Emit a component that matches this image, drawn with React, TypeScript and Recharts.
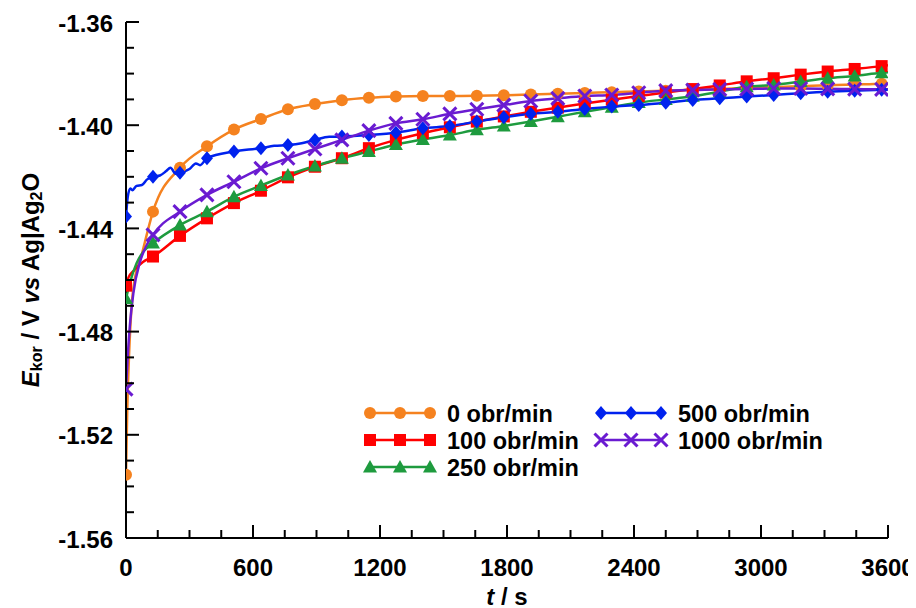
import React from 'react';
import { LineChart, Line, XAxis, YAxis, Legend } from 'recharts';

// marker times (s), shared by all series
const markerTimes = [0, 127.5, 255, 382.5, 510, 637.5, 765, 892.5, 1020, 1147.5, 1275, 1402.5, 1530, 1657.5, 1785, 1912.5, 2040, 2167.5, 2295, 2422.5, 2550, 2677.5, 2805, 2932.5, 3060, 3187.5, 3315, 3442.5, 3570];

// values at marker times (V vs Ag|Ag2O)
const rpm0 = [-1.5355, -1.4335, -1.4165, -1.4082, -1.4017, -1.3976, -1.3938, -1.3918, -1.3903, -1.3894, -1.3889, -1.3887, -1.3887, -1.3886, -1.3884, -1.3881, -1.3878, -1.3875, -1.3872, -1.3869, -1.3866, -1.3863, -1.386, -1.3856, -1.3853, -1.3849, -1.3845, -1.3842, -1.3839];
const rpm100 = [-1.4622, -1.4509, -1.4429, -1.4361, -1.4302, -1.4254, -1.4202, -1.4161, -1.4128, -1.4089, -1.4057, -1.4031, -1.4008, -1.3986, -1.3966, -1.3948, -1.3932, -1.3916, -1.3901, -1.3887, -1.3873, -1.386, -1.3846, -1.383, -1.3818, -1.3804, -1.3792, -1.3782, -1.3771];
const rpm250 = [-1.4672, -1.4457, -1.4387, -1.4335, -1.4277, -1.4234, -1.4193, -1.4158, -1.4128, -1.4102, -1.4075, -1.4055, -1.4038, -1.4018, -1.4003, -1.3986, -1.3967, -1.3948, -1.393, -1.3912, -1.39, -1.3888, -1.387, -1.3851, -1.3844, -1.3831, -1.3818, -1.3809, -1.3797];
const rpm500 = [-1.4354, -1.42, -1.4184, -1.4128, -1.4102, -1.4089, -1.4077, -1.4057, -1.4044, -1.4038, -1.4029, -1.4012, -1.4003, -1.3986, -1.3969, -1.3956, -1.3948, -1.3937, -1.3928, -1.3922, -1.3913, -1.3902, -1.3896, -1.3889, -1.3883, -1.3876, -1.387, -1.3866, -1.3863];
const rpm1000 = [-1.5023, -1.4425, -1.4335, -1.427, -1.4219, -1.4167, -1.4128, -1.4092, -1.4057, -1.4021, -1.3993, -1.3977, -1.3956, -1.3938, -1.3922, -1.3906, -1.3896, -1.3887, -1.3883, -1.3874, -1.3866, -1.3864, -1.3861, -1.386, -1.3858, -1.3858, -1.3859, -1.386, -1.3861];

// extra (unmarked) points [t, value]
const rpm0Extra: [number, number][] = [[6, -1.51], [15, -1.488], [35, -1.463], [75, -1.45], [3600, -1.3838]];
const rpm100Extra: [number, number][] = [[12, -1.459], [35, -1.4565], [80, -1.453], [3600, -1.3768]];
const rpm250Extra: [number, number][] = [[18, -1.4612], [50, -1.4535], [82, -1.449], [3600, -1.3795]];
const rpm500Extra: [number, number][] = [[8, -1.428], [20, -1.4245], [30, -1.4252], [50, -1.4235], [75, -1.4232], [100, -1.421], [160, -1.4195], [190, -1.4178], [210, -1.4165], [235, -1.4188], [300, -1.417], [330, -1.4148], [350, -1.4155], [700, -1.408], [830, -1.407], [960, -1.4045], [3600, -1.3862]];
const rpm1000Extra: [number, number][] = [[8, -1.49], [18, -1.478], [35, -1.465], [66, -1.453], [98, -1.4465], [3600, -1.3861]];

const seriesNames = ['0 obr/min', '100 obr/min', '250 obr/min', '500 obr/min', '1000 obr/min'];

const xMajorTicks = [0, 600, 1200, 1800, 2400, 3000, 3600];
const xMinorTicks = [150, 300, 450, 750, 900, 1050, 1350, 1500, 1650, 1950, 2100, 2250, 2550, 2700, 2850, 3150, 3300, 3450];
const yMajorTicks = [-1.56, -1.52, -1.48, -1.44, -1.4, -1.36];
const yMinorTicks = [-1.55, -1.54, -1.53, -1.51, -1.5, -1.49, -1.47, -1.46, -1.45, -1.43, -1.42, -1.41, -1.39, -1.38, -1.37];

const FONT = '"Liberation Sans", Arial, sans-serif';

type Pt = { t: number; v: number; m: boolean };
function build(vals: number[], extra: [number, number][]): Pt[] {
  const pts: Pt[] = markerTimes.map((t, i) => ({ t, v: vals[i], m: true }));
  extra.forEach(([t, v]) => pts.push({ t, v, m: false }));
  pts.sort((a, b) => a.t - b.t);
  return pts;
}

const series = [
  { name: seriesNames[0], data: build(rpm0, rpm0Extra), color: '#F5821F', shape: 'circle' },
  { name: seriesNames[1], data: build(rpm100, rpm100Extra), color: '#FF0000', shape: 'square' },
  { name: seriesNames[2], data: build(rpm250, rpm250Extra), color: '#1E9B3E', shape: 'triangle' },
  { name: seriesNames[3], data: build(rpm500, rpm500Extra), color: '#0022EE', shape: 'diamond' },
  { name: seriesNames[4], data: build(rpm1000, rpm1000Extra), color: '#6A1BD1', shape: 'cross' },
];

function Marker({ shape, color, cx, cy }: { shape: string; color: string; cx: number; cy: number }) {
  switch (shape) {
    case 'circle':
      return <circle cx={cx} cy={cy} r={6} fill={color} />;
    case 'square':
      return <rect x={cx - 6} y={cy - 6} width={12} height={12} fill={color} />;
    case 'triangle':
      return <polygon points={`${cx},${cy - 7} ${cx + 7},${cy + 5.5} ${cx - 7},${cy + 5.5}`} fill={color} />;
    case 'diamond':
      return <polygon points={`${cx},${cy - 7} ${cx + 6},${cy} ${cx},${cy + 7} ${cx - 6},${cy}`} fill={color} />;
    default:
      return (
        <g stroke={color} strokeWidth={3}>
          <line x1={cx - 6.5} y1={cy - 6.5} x2={cx + 6.5} y2={cy + 6.5} />
          <line x1={cx - 6.5} y1={cy + 6.5} x2={cx + 6.5} y2={cy - 6.5} />
        </g>
      );
  }
}

const XTick = (props: any) => {
  const { x, y, payload } = props;
  const major = xMajorTicks.includes(payload.value);
  return (
    <g>
      <line x1={x} x2={x} y1={y} y2={y - (major ? 13 : 8)} stroke="#000" strokeWidth={2} />
      {major && (
        <text x={x} y={y + 29} textAnchor="middle" dominantBaseline="central" fontFamily={FONT} fontWeight="bold" fontSize={24} fill="#000">
          {payload.value}
        </text>
      )}
    </g>
  );
};

const YTick = (props: any) => {
  const { x, y, payload } = props;
  const major = yMajorTicks.some((m) => Math.abs(m - payload.value) < 1e-6);
  return (
    <g>
      <line x1={x} x2={x + (major ? 13 : 8)} y1={y} y2={y} stroke="#000" strokeWidth={2} />
      {major && (
        <text x={x - 13} y={y + 1} textAnchor="end" dominantBaseline="central" fontFamily={FONT} fontWeight="bold" fontSize={24} fill="#000">
          {payload.value.toFixed(2)}
        </text>
      )}
    </g>
  );
};

const LegendContent = () => {
  const pos = [
    { cx: 12, cy: 15 },
    { cx: 12, cy: 42 },
    { cx: 12, cy: 69 },
    { cx: 243, cy: 15 },
    { cx: 243, cy: 42 },
  ];
  return (
    <svg width={540} height={84}>
      {series.map((s, i) => {
        const p = pos[i];
        return (
          <g key={s.name}>
            <line x1={p.cx} x2={p.cx + 60} y1={p.cy} y2={p.cy} stroke={s.color} strokeWidth={2.5} />
            {[0, 30, 60].map((d) => (
              <Marker key={d} shape={s.shape} color={s.color} cx={p.cx + d} cy={p.cy} />
            ))}
            <text x={p.cx + 77} y={p.cy + 1} dominantBaseline="central" fontFamily={FONT} fontWeight="bold" fontSize={23.5} fill="#000">
              {s.name}
            </text>
          </g>
        );
      })}
    </svg>
  );
};

const allXTicks = [...xMajorTicks, ...xMinorTicks].sort((a, b) => a - b);
const allYTicks = [...yMajorTicks, ...yMinorTicks].sort((a, b) => a - b);

export default function App() {
  return (
    <div style={{ width: 908, height: 600 }}>
      <LineChart width={908} height={600} margin={{ top: 14, right: 28, bottom: 0, left: 0 }} style={{ overflow: 'visible' }}>
        <XAxis
          dataKey="t"
          type="number"
          domain={[0, 3600]}
          ticks={allXTicks}
          interval={0}
          tick={<XTick />}
          tickLine={false}
          tickSize={0}
          tickMargin={0}
          height={70}
          axisLine={{ stroke: '#000', strokeWidth: 2 }}
          allowDataOverflow
          label={{
            content: () => (
              <text x={499} y={588} textAnchor="middle" dominantBaseline="central" fontFamily={FONT} fontWeight="bold" fontSize={24} fill="#000">
                <tspan fontStyle="italic">t</tspan>
                <tspan> / s</tspan>
              </text>
            ),
          }}
        />
        <XAxis xAxisId="top" orientation="top" type="number" domain={[0, 3600]} dataKey="t" tick={false} tickLine={false} height={0} axisLine={{ stroke: '#000', strokeWidth: 2 }} />
        <YAxis
          type="number"
          domain={[-1.56, -1.36]}
          ticks={allYTicks}
          interval={0}
          tick={<YTick />}
          tickLine={false}
          tickSize={0}
          tickMargin={0}
          width={118}
          axisLine={{ stroke: '#000', strokeWidth: 2 }}
          allowDataOverflow
          label={{
            content: () => (
              <text
                x={22}
                y={272}
                transform="rotate(-90, 22, 272)"
                textAnchor="middle"
                dominantBaseline="central"
                fontFamily={FONT}
                fontWeight="bold"
                fontSize={24}
                fill="#000"
              >
                <tspan fontStyle="italic">E</tspan>
                <tspan fontSize={16} dy={6}>kor</tspan>
                <tspan dy={-6}> / V </tspan>
                <tspan fontStyle="italic">vs</tspan>
                <tspan> Ag|Ag</tspan>
                <tspan fontSize={16} dy={6}>2</tspan>
                <tspan dy={-6}>O</tspan>
              </text>
            ),
          }}
        />
        <YAxis yAxisId="right" orientation="right" type="number" domain={[-1.56, -1.36]} tick={false} tickLine={false} width={0} axisLine={{ stroke: '#000', strokeWidth: 2 }} />
        {series.map((s) => (
          <Line
            key={s.name}
            data={s.data}
            dataKey="v"
            name={s.name}
            type="monotone"
            stroke={s.color}
            strokeWidth={2.5}
            isAnimationActive={false}
            activeDot={false}
            dot={(p: any) =>
              p.payload.m ? (
                <Marker key={p.index} shape={s.shape} color={s.color} cx={p.cx} cy={p.cy} />
              ) : (
                <g key={p.index} />
              )
            }
          />
        ))}
        <Legend
          layout="vertical"
          align="center"
          verticalAlign="middle"
          content={<LegendContent />}
          wrapperStyle={{ position: 'absolute', left: 350, top: 390, width: 540, height: 84 }}
        />
      </LineChart>
    </div>
  );
}
